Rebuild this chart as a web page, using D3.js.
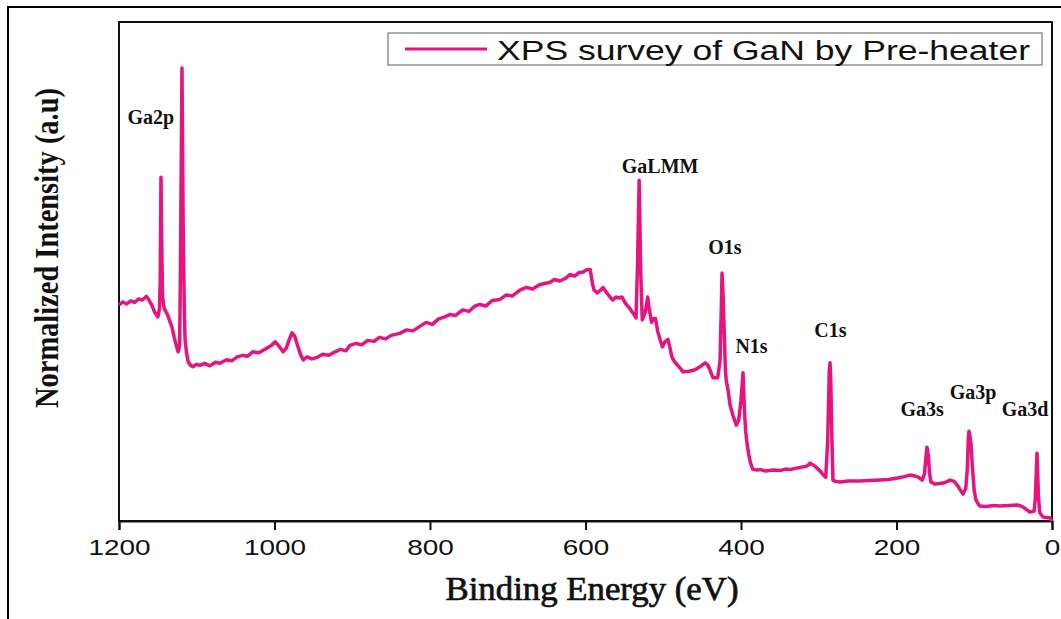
<!DOCTYPE html>
<html>
<head>
<meta charset="utf-8">
<script src="https://cdn.jsdelivr.net/npm/d3@7"></script>
<style>
  html, body { margin: 0; padding: 0; background: #fff; }
  svg { display: block; }
</style>
</head>
<body>
<svg id="chart" width="1061" height="619"></svg>
<script>
// XPS survey spectrum of GaN grown with pre-heater
const bindingEnergy = [
  1200,1195,1190,1185,1180,1175,1170,1165,1162,1158,1154,1150,1148,1147,1146,1145,1144,1142,1140,1138,
  1135,1132,1129,1126,1124,1122,1121,1119,1117.5,1116,1115,1113,1111,1108,1105,1100,1096,1090,1083,1076,
  1070,1062,1055,1048,1041,1035,1028,1020,1010,1004,999,994,989,985,981,977.5,974,970,966,963,
  958,952,945,938,930,922,915,908,903,895,888,880,872,865,857,850,839,830,822,813,
  805,797,789,781,774,767,758,750,743,736,728,720,710,702,694,684,676,668,660,653,
  646,640,633,626,620,614,608,603,598,594,591,589,585,581,577.5,574,571,568,565,561,
  558,553,550,547,543,539,535,533,531,529,527,525,523,520,518,515,512,510,507,504,
  501,498,494,491,489,485,482,478,475,467,459,453,446,443,440,436,430,427,425,424.4,
  423,420,419,416,414,410,406,403,400,397.4,395.5,394,392,390,388,385,380,375,368,359,
  350,343,337,326,315,311,305,298,294,291,288.5,286.5,285.5,284.5,283,281.7,278,272.7,262,247,
  235,221,210,199,190,182.6,176,172,167,164,162,160.8,159,157.5,155.6,150.5,145,140,135,131,
  127,125,121,118,114.5,111,109,107.5,106.8,105.5,104,102.5,101.6,100,97.7,94,92.6,85,75,67,
  55,45,40,37.3,33,28.3,23,21.5,20.6,19.3,18.3,17.5,16,15.4,11.6,6,2.6,0
];
const intensity = [
  43.3,43.9,43.5,44.1,43.8,44.5,44.3,45.0,44.4,43.3,41.8,40.9,42.5,48,68.9,55,45,42.7,42.0,41.5,
  40.2,38.9,36.8,35.0,33.9,35.1,50,90.8,60,42,36.3,33.5,31.9,31.2,30.9,31.4,31.2,31.6,31.1,31.8,
  31.6,32.3,32.1,32.9,33.2,33.0,33.9,33.7,34.6,35.2,35.9,35.0,33.9,34.6,36.4,37.7,37.0,35.0,33.2,32.3,
  32.9,32.5,32.8,33.4,33.2,33.9,34.4,34.1,35.2,35.6,35.3,36.2,36.0,36.8,36.5,37.2,37.6,38.3,38.1,39.0,
  39.8,39.4,40.5,40.9,41.4,41.2,42.3,42.0,43.0,43.4,43.1,44.2,44.4,45.3,45.1,46.3,46.8,46.5,47.3,47.6,
  47.8,48.4,48.1,48.6,49.4,49.1,49.8,49.9,50.4,50.4,47.5,46.3,45.7,46.2,46.8,46.0,45.4,44.8,44.3,44.9,
  44.7,44.9,44.0,43.3,42.6,41.7,40.7,52,68.3,50,40.3,41.0,42.0,44.9,42.5,39.8,40.6,40.6,37.9,36.3,
  34.9,35.9,36.4,34.5,32.9,31.8,31.3,30.6,29.9,30.0,30.3,30.9,31.7,31.3,30.3,28.7,28.7,32,45,49.7,
  45,30,28.3,25.5,23.2,21.0,19.2,20.2,24.2,29.7,22,18,15.2,13.3,11.8,10.4,10.2,10.3,10.0,10.2,
  10.1,10.4,10.3,10.7,11.0,11.6,11.0,10.0,9.2,8.8,16,30,31.7,28,16,8.2,7.9,7.8,8.0,8.0,
  8.1,8.2,8.3,8.6,8.9,9.2,9.0,8.8,8.2,9.5,13,14.8,13,9.5,7.8,7.4,7.5,7.6,7.9,8.2,
  8.0,7.8,7.0,6.2,5.4,6.5,10.2,17,18.0,17,15.2,11,9.2,6,4.2,3.2,3.0,2.9,3.1,3.0,
  3.1,3.2,3.0,2.8,2.3,1.8,2.0,4.5,8.2,13.6,9,5,2.0,1.6,0.8,0.7,0.6,0
];

const xTicks = [1200, 1000, 800, 600, 400, 200, 0];

// Peak assignments and where their names sit (binding energy, intensity of baseline)
const peakNames = ["Ga2p", "GaLMM", "O1s", "N1s", "C1s", "Ga3s", "Ga3p", "Ga3d"];
const peakLabelBE = [1159, 504, 420.6, 386.5, 285, 167, 101.6, 34.7];
const peakLabelI = [79.6, 69.7, 53.5, 33.7, 36.9, 21.0, 24.4, 21.0];

const seriesName = "XPS survey of GaN by Pre-heater";
const xTitle = "Binding Energy (eV)";
const yTitle = "Normalized Intensity (a.u)";

const lineColor = "#e5147e";
const stretch = 1.27; // horizontal widening of glyphs

const svg = d3.select("#chart");
const plot = { left: 119, top: 22, right: 1052, bottom: 521 };

const x = d3.scaleLinear().domain([1200, 0]).range([plot.left, plot.right]);
const y = d3.scaleLinear().domain([0, 100]).range([plot.bottom, plot.top]);

// outer frame
svg.append("rect")
  .attr("x", 8).attr("y", 7).attr("width", 1100).attr("height", 700)
  .attr("fill", "none").attr("stroke", "#000").attr("stroke-width", 2);

// plot frame
svg.append("rect")
  .attr("x", plot.left).attr("y", plot.top)
  .attr("width", plot.right - plot.left).attr("height", plot.bottom - plot.top)
  .attr("fill", "none").attr("stroke", "#111").attr("stroke-width", 2);

// x axis
const xAxis = svg.append("g")
  .attr("transform", `translate(0,${plot.bottom})`)
  .call(d3.axisBottom(x).tickValues(xTicks).tickSize(9).tickFormat(d3.format("d")));
xAxis.select(".domain").attr("stroke", "#111").attr("stroke-width", 2);
xAxis.selectAll(".tick line").attr("stroke", "#111").attr("stroke-width", 2);
xAxis.selectAll(".tick text")
  .attr("y", 34).attr("dy", 0)
  .attr("transform", `scale(${stretch},1)`)
  .style("font-family", "'Liberation Sans', Arial, sans-serif")
  .style("font-size", "22px")
  .attr("fill", "#111");

// spectrum
const pts = bindingEnergy.map((be, i) => [be, intensity[i]]);
svg.append("path")
  .datum(pts)
  .attr("fill", "none")
  .attr("stroke", lineColor)
  .attr("stroke-width", 3.5)
  .attr("stroke-linejoin", "round")
  .attr("d", d3.line().x(d => x(d[0])).y(d => y(d[1])));

// peak labels
svg.append("g").selectAll("text")
  .data(peakNames)
  .join("text")
  .attr("x", (d, i) => x(peakLabelBE[i]))
  .attr("y", (d, i) => y(peakLabelI[i]))
  .attr("text-anchor", "middle")
  .style("font-family", "'Liberation Serif', 'Times New Roman', serif")
  .style("font-weight", "bold")
  .style("font-size", "20px")
  .attr("fill", "#111")
  .text(d => d);

// legend
const legend = svg.append("g");
legend.append("rect")
  .attr("x", 388).attr("y", 33).attr("width", 654).attr("height", 32)
  .attr("fill", "#fff").attr("stroke", "#777").attr("stroke-width", 1.2);
legend.append("line")
  .attr("x1", 405).attr("x2", 487).attr("y1", 49).attr("y2", 49)
  .attr("stroke", lineColor).attr("stroke-width", 3);
legend.append("text")
  .attr("x", 497).attr("y", 60)
  .attr("textLength", 533).attr("lengthAdjust", "spacingAndGlyphs")
  .style("font-family", "'Liberation Sans', Arial, sans-serif")
  .style("font-size", "27px")
  .attr("fill", "#111")
  .text(seriesName);

// axis titles
svg.append("text")
  .attr("x", 592).attr("y", 600)
  .attr("text-anchor", "middle")
  .attr("textLength", 293).attr("lengthAdjust", "spacingAndGlyphs")
  .style("font-family", "'Liberation Serif', 'Times New Roman', serif")
  .style("font-size", "33px")
  .attr("fill", "#111")
  .attr("stroke", "#111")
  .attr("stroke-width", 0.7)
  .text(xTitle);

svg.append("text")
  .attr("transform", `translate(58,248) scale(${stretch},1) rotate(-90)`)
  .attr("text-anchor", "middle")
  .attr("textLength", 320).attr("lengthAdjust", "spacingAndGlyphs")
  .style("font-family", "'Liberation Serif', 'Times New Roman', serif")
  .style("font-weight", "bold")
  .style("font-size", "27px")
  .attr("fill", "#111")
  .text(yTitle);
</script>
</body>
</html>
